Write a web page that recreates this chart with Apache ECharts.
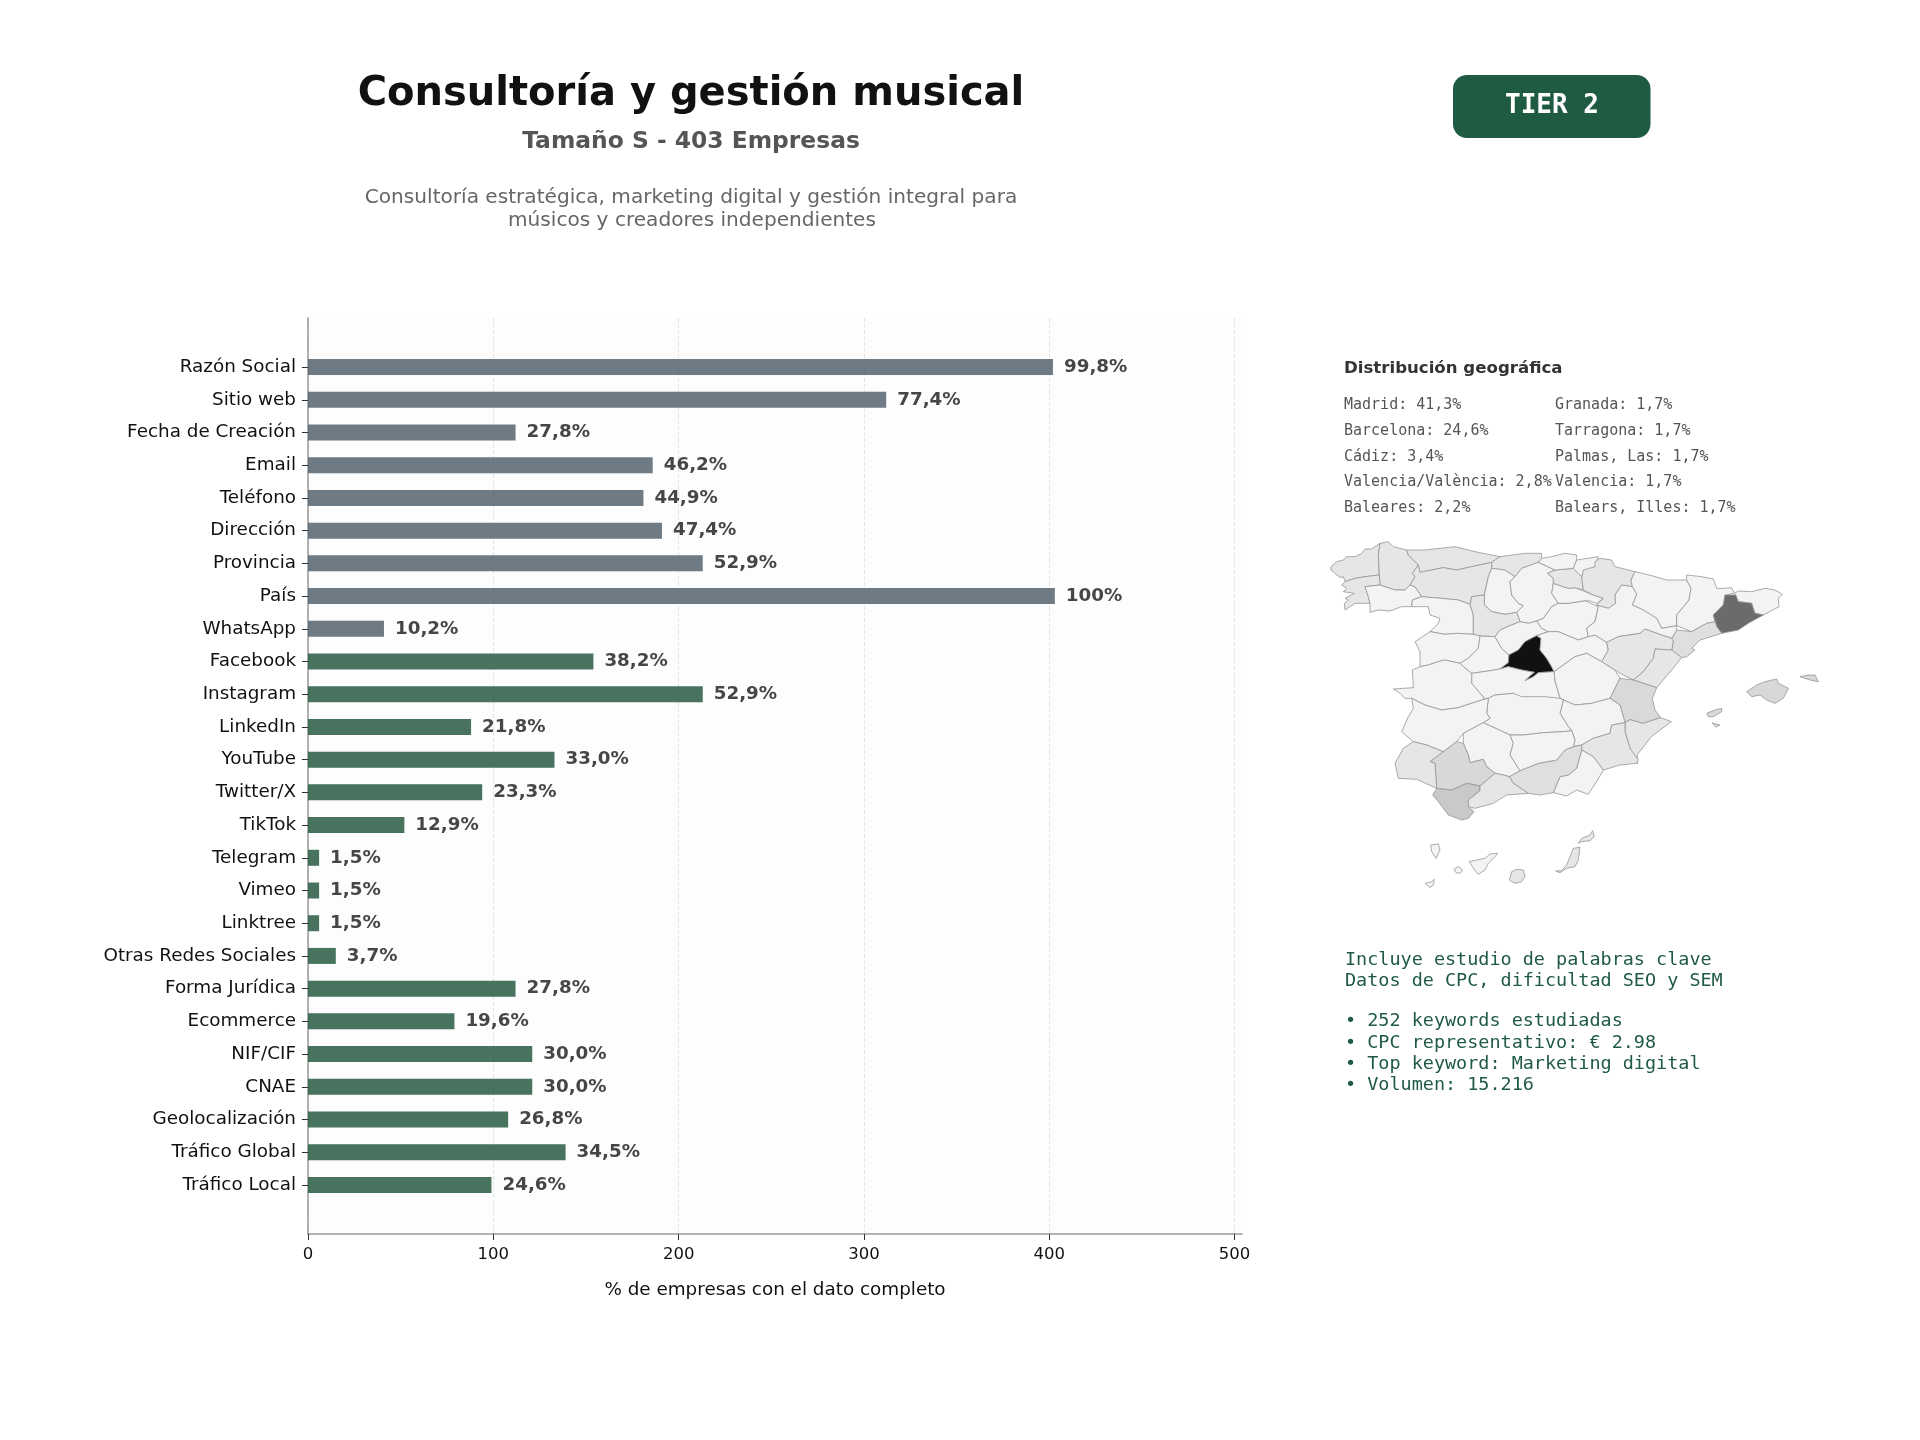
<!DOCTYPE html>
<html>
<head>
<meta charset="utf-8">
<title>Consultoría y gestión musical</title>
<script src="https://cdn.jsdelivr.net/npm/echarts@6/dist/echarts.min.js"></script>
<style>
html,body{margin:0;padding:0;background:#fff;}
#chart{width:1920px;height:1440px;}
</style>
</head>
<body>
<div id="chart"></div>
<script>
var categories = ['Razón Social','Sitio web','Fecha de Creación','Email','Teléfono','Dirección','Provincia','País','WhatsApp','Facebook','Instagram','LinkedIn','YouTube','Twitter/X','TikTok','Telegram','Vimeo','Linktree','Otras Redes Sociales','Forma Jurídica','Ecommerce','NIF/CIF','CNAE','Geolocalización','Tráfico Global','Tráfico Local'];
var counts = [402,312,112,186,181,191,213,403,41,154,213,88,133,94,52,6,6,6,15,112,79,121,121,108,139,99];
var percentLabels = ['99,8%','77,4%','27,8%','46,2%','44,9%','47,4%','52,9%','100%','10,2%','38,2%','52,9%','21,8%','33,0%','23,3%','12,9%','1,5%','1,5%','1,5%','3,7%','27,8%','19,6%','30,0%','30,0%','26,8%','34,5%','24,6%'];
var basicFields = 9;
var xTicks = [0,100,200,300,400,500];

var titleText = 'Consultoría y gestión musical';
var subtitleText = 'Tamaño S - 403 Empresas';
var descLines = ['Consultoría estratégica, marketing digital y gestión integral para','músicos y creadores independientes'];
var tierText = 'TIER 2';
var geoTitle = 'Distribución geográfica';
var geoCol1 = ['Madrid: 41,3%','Barcelona: 24,6%','Cádiz: 3,4%','Valencia/València: 2,8%','Baleares: 2,2%'];
var geoCol2 = ['Granada: 1,7%','Tarragona: 1,7%','Palmas, Las: 1,7%','Valencia: 1,7%','Balears, Illes: 1,7%'];
var keywordLines = ['Incluye estudio de palabras clave','Datos de CPC, dificultad SEO y SEM','','• 252 keywords estudiadas','• CPC representativo: € 2.98','• Top keyword: Marketing digital','• Volumen: 15.216'];

// share of companies per province, the ones not listed are read from the grey of the map
var provinceValues = {
    'Madrid':41.3,'Barcelona':24.6,'Cádiz':3.4,'Valencia':2.8,'Baleares':2.2,'Granada':1.7,'Tarragona':1.7,'Las Palmas':1.2,
    'Sevilla':2.4,'Málaga':1.3,'Huelva':1.3,'Murcia':1.3,'Alicante':1.3,'Castellón':1.3,'Teruel':1.3,'Navarra':1.3,'Álava':1.3,
    'Valladolid':1.3,'León':1.3,'Asturias':1.3,'Cantabria':1.3,'Lugo':1.3,'A Coruña':1.3,'Pontevedra':1.3,
    'Ourense':0.3,'Zamora':0.3,'Palencia':0.3,'Burgos':0.3,'Salamanca':0.3,'Ávila':0.3,'Segovia':0.3,'Soria':0.3,'La Rioja':0.3,
    'Vizcaya':0.3,'Gipuzkoa':0.3,'Huesca':0.3,'Lleida':0.3,'Girona':0.3,'Zaragoza':0.3,'Guadalajara':0.3,'Cuenca':0.3,'Albacete':0.3,
    'Toledo':0.3,'Ciudad Real':0.3,'Cáceres':0.3,'Badajoz':0.3,'Córdoba':0.3,'Jaén':0.3,'Almería':0.3,'Santa Cruz de Tenerife':0.3
};

// province outlines, each one in the crop it was read in
var frames = {A:[1325,535],B:[1575,535],C:[1380,700],D:[1410,810]};
var provinceShapes = [
    ['A Coruña','A',[[[18,95],[35,80],[55,75],[65,65],[90,65],[110,55],[120,42],[140,42],[165,25],[160,60],[163,120],[120,125],[90,130],[60,140],[55,125],[48,128],[35,120],[18,105]]]],
    ['Lugo','A',[[[165,25],[190,20],[205,35],[245,45],[250,60],[280,90],[262,115],[270,125],[255,150],[240,165],[210,165],[165,150],[163,120],[160,60]]]],
    ['Pontevedra','A',[[[60,140],[90,130],[120,125],[163,120],[165,150],[120,155],[130,185],[135,205],[90,205],[60,225],[58,205],[70,195],[60,190],[88,175],[55,170],[65,160],[50,150]]]],
    ['Ourense','A',[[[120,155],[165,150],[210,165],[240,165],[255,150],[270,155],[290,185],[262,195],[260,215],[230,215],[195,228],[160,225],[135,232],[135,205],[130,185]]]],
    ['Asturias','A',[[[245,45],[300,45],[390,35],[450,50],[525,65],[500,82],[440,95],[395,105],[355,98],[320,105],[285,112],[280,90],[250,60]]]],
    ['Cantabria','A',[[[525,65],[600,55],[650,55],[650,70],[640,82],[590,100],[570,125],[540,105],[500,100],[500,82]]]],
    ['León','A',[[[285,112],[320,105],[355,98],[395,105],[440,95],[500,82],[500,100],[490,125],[478,180],[440,185],[435,208],[400,195],[350,190],[290,185],[270,155],[255,150],[270,125],[262,115],[280,90]]]],
    ['Palencia','A',[[[500,100],[540,105],[570,125],[555,140],[560,180],[580,205],[595,212],[575,232],[540,238],[500,230],[478,210],[478,180],[490,125]]]],
    ['Burgos','A',[[[570,125],[590,100],[640,82],[668,95],[690,105],[668,115],[685,130],[685,145],[680,175],[700,205],[680,215],[655,250],[635,258],[610,265],[585,260],[575,232],[595,212],[580,205],[560,180],[555,140]]]],
    ['Zamora','A',[[[262,195],[290,185],[350,190],[400,195],[435,208],[445,240],[445,298],[395,295],[360,298],[315,290],[340,265],[345,250],[315,240],[310,215],[280,215],[260,215]]]],
    ['Valladolid','A',[[[440,185],[478,180],[478,210],[500,230],[540,238],[575,232],[585,260],[560,270],[525,285],[510,305],[465,303],[445,298],[445,240],[435,208]]]],
    ['Salamanca','A',[[[315,290],[360,298],[395,295],[445,298],[465,303],[460,340],[430,370],[405,385],[360,375],[345,378],[310,390],[285,395],[285,350],[270,320]]]],
    ['Ávila','A',[[[465,303],[510,305],[530,340],[552,360],[550,383],[525,402],[490,408],[440,415],[415,395],[405,385],[430,370],[460,340]]]],
    ['Segovia','A',[[[525,285],[560,270],[585,260],[610,265],[635,258],[650,280],[670,290],[635,302],[600,320],[580,345],[552,360],[530,340],[510,305]]]],
    ['Soria','A',[[[655,250],[680,215],[700,205],[730,205],[780,197],[820,215],[810,260],[785,280],[790,305],[760,315],[700,290],[670,290],[650,280],[635,258]]]],
    ['La Rioja','A',[[[685,145],[730,160],[750,158],[805,180],[835,190],[815,205],[795,198],[780,197],[730,205],[700,205],[680,175]]]],
    ['Álava','A',[[[668,115],[690,105],[745,100],[770,125],[775,165],[750,158],[730,160],[685,145],[685,130]]]],
    ['Vizcaya','A',[[[650,70],[680,65],[720,55],[755,60],[755,75],[745,100],[690,105],[668,95],[640,82]]]],
    ['Gipuzkoa','A',[[[755,75],[820,65],[810,95],[775,110],[770,125],[745,100]]]],
    ['Madrid','A',[[[635,302],[648,310],[645,345],[665,370],[680,395],[687,410],[640,413],[625,425],[600,437],[612,425],[628,412],[590,405],[550,395],[525,402],[550,383],[552,360],[580,345],[600,320]]]],
    ['Guadalajara','A',[[[635,302],[670,290],[700,290],[760,315],[790,305],[810,300],[845,322],[850,345],[830,380],[785,355],[750,365],[715,390],[687,410],[680,395],[665,370],[645,345],[648,310]]]],
    ['Cuenca','A',[[[687,410],[715,390],[750,365],[785,355],[830,380],[870,405],[885,430],[855,490],[800,505],[750,510],[705,490],[690,440]]]],
    ['Toledo','A',[[[440,415],[490,408],[525,402],[550,395],[590,405],[628,412],[612,425],[600,437],[625,425],[640,413],[687,410],[690,440],[705,490],[660,495],[620,505],[590,495],[565,475],[510,480],[490,490],[478,490],[440,445]]]],
    ['Cáceres','A',[[[205,462],[265,458],[262,405],[285,395],[310,390],[345,378],[360,375],[405,385],[415,395],[440,415],[440,445],[478,490],[470,495],[400,518],[350,525],[300,510],[260,490],[240,490],[225,475]]]],
    ['Navarra','B',[[[25,105],[60,95],[60,80],[75,70],[110,75],[120,95],[180,110],[168,135],[172,155],[140,150],[120,180],[122,205],[100,220],[65,210],[85,190],[55,180],[25,165],[20,130]]]],
    ['Huesca','B',[[[180,110],[230,122],[275,135],[335,135],[348,160],[342,195],[305,240],[305,272],[260,280],[245,250],[205,225],[172,210],[185,178],[172,155],[168,135]]]],
    ['Lleida','B',[[[335,120],[380,125],[415,132],[425,160],[445,160],[470,158],[478,175],[450,180],[445,210],[415,240],[420,260],[395,265],[350,290],[305,272],[305,240],[342,195],[348,160],[335,135]]]],
    ['Girona','B',[[[478,175],[490,168],[530,170],[570,160],[600,165],[622,178],[610,190],[612,215],[565,240],[540,235],[530,205],[490,200],[482,180]]]],
    ['Barcelona','B',[[[450,180],[482,180],[490,200],[530,205],[535,222],[540,235],[565,240],[520,265],[490,285],[440,295],[425,275],[415,240],[445,210]]]],
    ['Tarragona','B',[[[395,265],[420,260],[425,275],[440,295],[375,315],[350,340],[360,345],[335,365],[320,368],[290,345],[295,320],[290,310],[305,285],[350,290]]]],
    ['Zaragoza','B',[[[65,210],[100,220],[122,205],[120,180],[140,150],[172,155],[185,178],[172,210],[205,225],[245,250],[260,280],[305,272],[305,285],[290,310],[260,300],[210,282],[195,295],[130,305],[95,322],[60,300],[40,305],[35,280],[60,260],[70,215]]]],
    ['Teruel','B',[[[95,322],[130,305],[195,295],[210,282],[260,300],[290,310],[295,320],[290,345],[240,342],[235,370],[205,410],[175,435],[135,415],[120,405],[80,380],[100,345]]]],
    ['Castellón','B',[[[240,342],[290,345],[320,368],[290,405],[245,458],[215,448],[175,435],[205,410],[235,370]]]],
    ['Valencia','B',[[[105,490],[135,430],[175,435],[215,448],[245,458],[232,490],[240,525],[257,548],[204,565],[165,554],[150,563],[135,510]]]],
    ['Alicante','B',[[[150,563],[165,554],[204,565],[257,548],[289,560],[230,604],[187,659],[187,687],[165,640],[150,590]]]],
    ['Baleares','B',[
        [[[515,470],[545,450],[570,440],[605,432],[610,445],[640,460],[625,490],[600,505],[575,495],[555,480],[530,485]]],
        [[[675,425],[700,420],[720,420],[730,440],[705,435]]],
        [[[395,535],[420,525],[440,520],[440,530],[415,545],[400,545]]],
        [[[411,564],[435,570],[423,576]]]
    ]],
    ['Albacete','C',[[[540,-5],[585,15],[635,10],[690,-5],[720,15],[735,68],[695,75],[690,100],[640,115],[605,135],[580,140],[585,120],[575,92],[565,80],[540,40],[550,0]]]],
    ['Ciudad Real','C',[[[325,-5],[345,-15],[400,-20],[425,-10],[455,-10],[495,-10],[540,-5],[550,0],[540,40],[565,80],[575,92],[550,95],[490,98],[430,105],[390,105],[310,68],[330,55],[320,40]]]],
    ['Badajoz','C',[[[95,-5],[135,15],[185,30],[235,23],[305,0],[325,-5],[320,40],[330,55],[310,68],[250,100],[230,125],[190,155],[140,135],[100,125],[65,95],[85,50],[100,25]]]],
    ['Murcia','C',[[[605,135],[640,115],[690,100],[695,75],[735,68],[735,95],[750,145],[775,180],[770,190],[720,195],[670,210],[640,170],[605,150]]]],
    ['Almería','C',[[[605,150],[640,170],[670,210],[650,245],[625,283],[590,270],[560,288],[520,278],[540,230],[565,225],[590,205]]]],
    ['Granada','C',[[[388,230],[420,212],[475,190],[530,180],[555,150],[580,140],[605,135],[605,150],[590,205],[565,225],[540,230],[520,278],[480,285],[445,280],[400,250]]]],
    ['Córdoba','C',[[[250,100],[310,68],[390,105],[400,130],[390,165],[420,212],[388,230],[370,225],[345,220],[320,200],[310,178],[270,188],[265,165],[250,130]]]],
    ['Jaén','C',[[[390,105],[430,105],[490,98],[550,95],[575,92],[585,120],[580,140],[555,150],[530,180],[475,190],[420,212],[390,165],[400,130]]]],
    ['Sevilla','C',[[[190,155],[230,125],[250,130],[265,165],[270,188],[310,178],[320,200],[345,220],[300,258],[260,250],[215,270],[170,265],[165,190],[150,185]]]],
    ['Huelva','C',[[[45,190],[70,145],[100,125],[140,135],[190,155],[150,185],[165,190],[170,265],[110,238],[55,235]]]],
    ['Cádiz','C',[[[170,265],[215,270],[260,250],[300,258],[300,272],[265,300],[265,320],[282,335],[265,355],[245,360],[205,345],[175,305],[158,285]]]],
    ['Málaga','C',[[[265,320],[265,300],[300,272],[300,258],[345,220],[370,225],[388,230],[400,250],[445,280],[380,285],[340,310],[285,325]]]],
    ['Santa Cruz de Tenerife','D',[
        [[[62,105],[85,102],[90,120],[78,145],[65,125]]],
        [[[45,220],[65,215],[73,208],[70,225],[60,232]]],
        [[[132,178],[145,170],[158,180],[150,190],[138,188]]],
        [[[178,155],[225,145],[240,132],[263,130],[255,140],[235,160],[225,180],[205,193],[190,175]]]
    ]],
    ['Las Palmas','D',[
        [[[305,185],[320,178],[340,180],[345,200],[335,215],[315,220],[298,210]]],
        [[[437,183],[455,182],[470,165],[490,115],[510,112],[505,150],[495,170],[470,175],[450,188]]],
        [[[505,100],[515,85],[540,75],[548,62],[553,80],[540,92],[515,95]]]
    ]]
];

var Spain = {
    minX:Infinity, maxX:-Infinity, minY:Infinity, maxY:-Infinity,
    toPage : function(frame,p){
        var x = frames[frame][0] + p[0]/3;
        var y = frames[frame][1] + p[1]/3;
        Spain.minX = Math.min(Spain.minX,x);
        Spain.maxX = Math.max(Spain.maxX,x);
        Spain.minY = Math.min(Spain.minY,y);
        Spain.maxY = Math.max(Spain.maxY,y);
        return [x,-y];
    },
    geoJson : function(){
        var features = [];
        provinceShapes.forEach(function(s){
            var multi = typeof s[2][0][0][0] != 'number';
            var polys = multi ? s[2] : [s[2]];
            var coords = polys.map(function(poly){
                return poly.map(function(ring){
                    return ring.map(function(p){return Spain.toPage(s[1],p);});
                });
            });
            features.push({
                type:'Feature',
                properties:{name:s[0]},
                geometry:{type:'MultiPolygon',coordinates:coords}
            });
        });
        return {type:'FeatureCollection',features:features};
    }
};

var FONT = 'DejaVu Sans';
var MONO = 'DejaVu Sans Mono';

function textEl(x,y,text,size,color,weight,family,align){
    return {
        type:'text', x:x, y:y, silent:true,
        style:{text:text, fontSize:size, fill:color, fontWeight:weight||'normal', fontFamily:family||FONT, textAlign:align||'left', textVerticalAlign:'middle'}
    };
}

var elements = [
    textEl(691,94.5,titleText,40,'#111111','bold',FONT,'center'),
    textEl(691,141.5,subtitleText,23.4,'#555555','bold',FONT,'center'),
    textEl(691,198,descLines[0],20.1,'#666666','normal',FONT,'center'),
    textEl(692,221,descLines[1],20.1,'#666666','normal',FONT,'center'),
    {type:'rect', silent:true, shape:{x:1453,y:75,width:197.5,height:63,r:14}, style:{fill:'#1f5a43'}},
    textEl(1552,106,tierText,26,'#ffffff','bold',MONO,'center'),
    textEl(1344,369,geoTitle,16.6,'#333333','bold')
];
var geoRows = [405,431,457,482.5,508.5];
geoCol1.forEach(function(t,i){ elements.push(textEl(1344,geoRows[i],t,15,'#555555','normal',MONO)); });
geoCol2.forEach(function(t,i){ elements.push(textEl(1555,geoRows[i],t,15,'#555555','normal',MONO)); });
var keywordRows = [960,981,1001,1021,1043,1064,1085];
keywordLines.forEach(function(t,i){ if(t) elements.push(textEl(1345,keywordRows[i],t,18.47,'#1f5a43','normal',MONO)); });

echarts.registerMap('spain',Spain.geoJson());

var mapData = Object.keys(provinceValues).map(function(k){ return {name:k,value:provinceValues[k]}; });
// two blank rows keep the margin above and below the bars
var yCats = [''].concat(categories,['']);
var barData = [null].concat(counts,[null]);

var option = {
    animation:false,
    backgroundColor:'#ffffff',
    textStyle:{fontFamily:FONT},
    grid:{left:308,top:318,width:934,height:916,show:true,backgroundColor:'#fdfdfd',borderWidth:0},
    xAxis:{
        type:'value', min:0, max:504,
        name:'% de empresas con el dato completo', nameLocation:'middle', nameGap:47.5,
        nameTextStyle:{fontSize:18.35,color:'#111111'},
        axisLine:{show:true,lineStyle:{color:'#999999',width:1.5}},
        axisTick:{show:true,length:6,lineStyle:{color:'#333333',width:1},customValues:xTicks},
        axisLabel:{fontSize:16.5,color:'#111111',margin:12,customValues:xTicks},
        splitLine:{show:true,lineStyle:{color:'#e4e4e4',type:'dashed',width:1}}
    },
    yAxis:{
        type:'category', inverse:true, data:yCats,
        axisLine:{show:true,lineStyle:{color:'#999999',width:1.5}},
        axisTick:{show:true,length:6,alignWithLabel:true,lineStyle:{color:'#333333',width:1},interval:function(i,v){return v !== '';}},
        axisLabel:{fontSize:18.35,color:'#111111',margin:12,interval:0,padding:[4,0,0,0]},
        splitLine:{show:false}
    },
    visualMap:{
        show:false, type:'piecewise', seriesIndex:1,
        pieces:[
            {min:40,color:'#111111'},
            {min:20,max:40,color:'#6b6b6b'},
            {min:3,max:20,color:'#c9c9c9'},
            {min:2.5,max:3,color:'#d9d9d9'},
            {min:2,max:2.5,color:'#d8d8d8'},
            {min:1.5,max:2,color:'#dfdfdf'},
            {min:1,max:1.5,color:'#e6e6e6'},
            {max:1,color:'#f3f3f3'}
        ]
    },
    series:[
        {
            type:'bar', data:barData, barWidth:16,
            itemStyle:{
                opacity:0.85,
                color:function(p){ return p.dataIndex <= basicFields ? '#556470' : '#275b43'; }
            },
            label:{
                show:true, position:'right', distance:11, offset:[0,0],
                fontSize:18.3, fontWeight:'bold', color:'#262626',
                formatter:function(p){ return percentLabels[p.dataIndex-1]; }
            },
            silent:true
        },
        {
            type:'map', map:'spain', aspectScale:1, roam:false, silent:true,
            left:Spain.minX, top:Spain.minY, width:Spain.maxX-Spain.minX, height:Spain.maxY-Spain.minY,
            label:{show:false},
            itemStyle:{borderColor:'#959595',borderWidth:0.8,areaColor:'#f3f3f3'},
            data:mapData
        }
    ],
    graphic:{elements:elements}
};

var myChart = echarts.init(document.getElementById('chart'),null,{renderer:'canvas'});
myChart.setOption(option);
</script>
</body>
</html>
